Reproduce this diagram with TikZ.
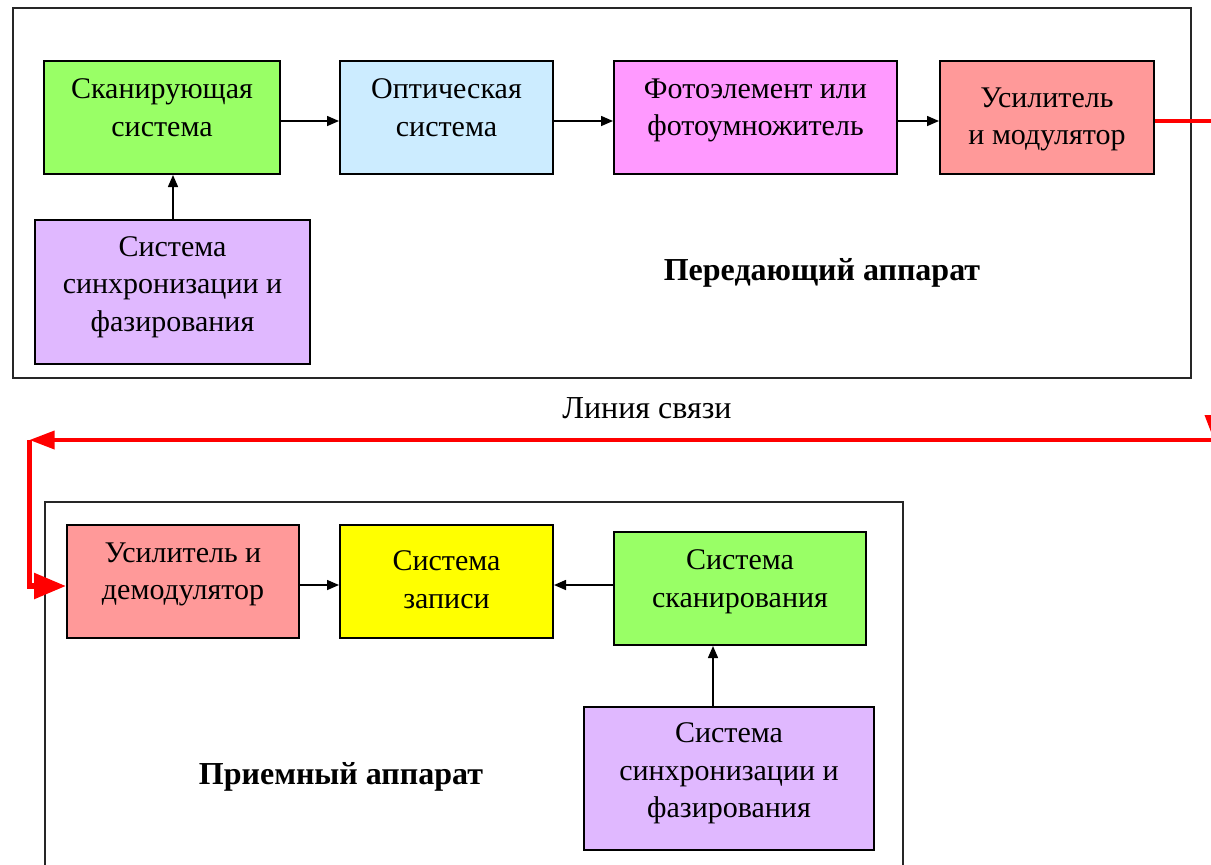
\documentclass[tikz,border=0pt]{standalone}
\usepackage{fontspec}
\setmainfont{Liberation Serif}
\usepackage{xcolor}
\usepackage{tikz}
\usetikzlibrary{calc,arrows.meta}
\definecolor{green}{HTML}{99FF66}
\definecolor{sky}{HTML}{CCECFF}
\definecolor{pink}{HTML}{FF99FF}
\definecolor{salmon}{HTML}{FF9999}
\definecolor{lilac}{HTML}{E0B8FF}
\definecolor{yellow}{HTML}{FFFF00}
\definecolor{red}{HTML}{FF0000}
\tikzset{
  box/.style={draw=black, line width=1pt, inner sep=0pt},
  frame/.style={draw=black!85, line width=1pt},
  arr/.style={draw=black, line width=0.75pt, -{Triangle[length=6pt,width=5pt]}},
  feed/.style={draw=red, line width=1.75pt},
  lab/.style={text=black, align=center, font=\fontsize{15}{18.8}\selectfont},
  head/.style={text=black, font=\fontsize{16}{20}\selectfont},
}

\begin{document}
\begin{tikzpicture}[x=0.5pt, y=-0.5pt]
  \clip (0,0) rectangle (1211,864);
  \fill[white] (0,0) rectangle (1211,864);
  \draw[frame] (13,8) rectangle (1191,378);
  \draw[frame] (45,502) rectangle (903,900);
  \coordinate (row1) at (0,121);
  \coordinate (row2) at (0,585);
  \coordinate (col1) at (173,0);
  \coordinate (col2) at (713,0);
  \node[box, fill=green, minimum width=118pt, minimum height=56.5pt,
    label={[lab,yshift=5pt]center:{Сканирующая\\система}}] (scan) at (162,117.5) {};
  \node[box, fill=sky, minimum width=106.5pt, minimum height=56.5pt,
    label={[lab,yshift=5pt]center:{Оптическая\\система}}] (optic) at (446.5,117.5) {};
  \node[box, fill=pink, minimum width=141.5pt, minimum height=56.5pt,
    label={[lab,yshift=3.5pt]center:{Фотоэлемент или\\фотоумножитель}}] (photo) at (755.5,117.5) {};
  \node[box, fill=salmon, minimum width=107pt, minimum height=56.5pt,
    label={[lab,yshift=-1pt]center:{Усилитель\\и модулятор}}] (amp) at (1047,117.5) {};
  \node[box, fill=lilac, minimum width=137.5pt, minimum height=72pt,
    label={[lab,yshift=2.5pt]center:{Система\\синхронизации и\\фазирования}}] (sync1) at (172.5,292) {};
  \node[head] (tx) at (822,273) {\bfseries Передающий аппарат};
  \node[head] (line) at (647,408) {Линия связи};
  \node[box, fill=salmon, minimum width=116pt, minimum height=56.5pt,
    label={[lab,yshift=3.5pt]center:{Усилитель и\\демодулятор}}] (demod) at (183,581.5) {};
  \node[box, fill=yellow, minimum width=106.5pt, minimum height=56.5pt,
    label={[lab,yshift=1pt]center:{Система\\записи}}] (record) at (446.5,581.5) {};
  \node[box, fill=green, minimum width=126pt, minimum height=56.5pt,
    label={[lab,yshift=3.5pt]center:{Система\\сканирования}}] (scanr) at (740,588.5) {};
  \node[box, fill=lilac, minimum width=145pt, minimum height=71.5pt,
    label={[lab,yshift=2.5pt]center:{Система\\синхронизации и\\фазирования}}] (sync2) at (729,778.5) {};
  \node[head] (rx) at (341,777) {\bfseries Приемный аппарат};
  \draw[arr] (scan.east |- row1) -- (optic.west |- row1);
  \draw[arr] (optic.east |- row1) -- (photo.west |- row1);
  \draw[arr] (photo.east |- row1) -- (amp.west |- row1);
  \draw[arr] (col1 |- sync1.north) -- (col1 |- scan.south);
  \draw[arr] (demod.east |- row2) -- (record.west |- row2);
  \draw[arr] (scanr.west |- row2) -- (record.east |- row2);
  \draw[arr] (col2 |- sync2.north) -- (col2 |- scanr.south);
  \coordinate (ro) at (1214,121);
  \coordinate (rd) at (1214,440);
  \coordinate (lt) at (29.5,440);
  \coordinate (lb) at (29.5,586);
  \draw[feed, -{Triangle[length=12.5pt,width=9pt]}] (amp.east |- ro) -- (ro) -- (rd);
  \draw[feed, -{Triangle[length=12.5pt,width=9pt]}] (rd) -- (lt);
  \draw[feed, line width=2.8pt, -{Triangle[length=16pt,width=12.5pt]}] (lt) -- (lb) -- (demod.west |- lb);
\end{tikzpicture}
\end{document}
